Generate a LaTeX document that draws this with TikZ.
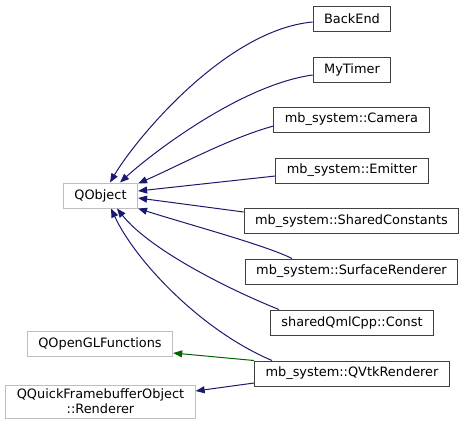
\documentclass[tikz,border=0pt]{standalone}
\usepackage{fontspec}
\setmainfont{DejaVu Sans}
\usetikzlibrary{arrows.meta}
\definecolor{navy}{HTML}{191970}
\definecolor{dgreen}{HTML}{006400}
\tikzset{
  >={Triangle[length=9pt,width=7pt]},
  cls/.style={rectangle,draw=black!75,fill=white,line width=1pt,minimum height=25pt,inner xsep=11pt,inner ysep=2pt,font=\fontsize{12.9}{15}\selectfont},
  ext/.style={cls,draw=black!25},
  inh/.style={<-,draw=navy,line width=1pt},
  inhg/.style={<-,draw=dgreen,line width=1pt},
}

\begin{document}
\begin{tikzpicture}[x=1pt,y=-1pt]
\useasboundingbox (0,0) rectangle (465,429);
\node[ext] (qobject) at (100.5,195.5) {QObject};
\node[ext] (qgl) at (100,344) {QOpenGLFunctions};
\node[ext,align=center,inner ysep=4pt] (qfbo) at (100.5,401.5) {QQuickFramebufferObject\\::Renderer};
\node[cls] (backend) at (352,18.5) {BackEnd}; \node[cls] (mytimer) at (352,69.5) {MyTimer};
\node[cls] (camera) at (351.5,119.5) {mb\_system::Camera}; \node[cls] (emitter) at (352,170.5) {mb\_system::Emitter};
\node[cls] (shconst) at (351.5,221) {mb\_system::SharedConstants};
\node[cls] (surfrend) at (351.5,271.5) {mb\_system::SurfaceRenderer};
\node[cls] (qmlconst) at (352,322.5) {sharedQmlCpp::Const}; \node[cls] (qvtk) at (352,373.5) {mb\_system::QVtkRenderer};
\draw[inh] ([shift={(9.5,0)}]qobject.north) .. controls (135,140) and (225,30) .. ([shift={(0,3.5)}]backend.west);
\draw[inh] ([shift={(19.5,0)}]qobject.north) .. controls (150,155) and (240,85) .. ([shift={(0,5.5)}]mytimer.west);
\draw[inh] ([shift={(0,1)}]qobject.north east) .. controls (180,165) and (230,138) .. ([shift={(0,6.5)}]camera.west);
\draw[inh] ([shift={(0,-4.5)}]qobject.east) -- ([shift={(0,5.5)}]emitter.west);
\draw[inh] ([shift={(0,2.5)}]qobject.east) -- ([shift={(0,-9)}]shconst.west);
\draw[inh] (qobject.south east) .. controls (190,225) and (265,245) .. ([shift={(-59.5,0)}]surfrend.north);
\draw[inh] ([shift={(16.5,0)}]qobject.south) .. controls (150,250) and (230,290) .. ([shift={(-73,0)}]qmlconst.north);
\draw[inh] ([shift={(10.5,0)}]qobject.south) .. controls (135,260) and (200,330) .. ([shift={(-80,0)}]qvtk.north);
\draw[inhg] ([shift={(0,9)}]qgl.east) -- (qvtk.north west);
\draw[inh] ([shift={(0,-10.5)}]qfbo.east) -- ([shift={(0,9.5)}]qvtk.west);
\end{tikzpicture}
\end{document}
